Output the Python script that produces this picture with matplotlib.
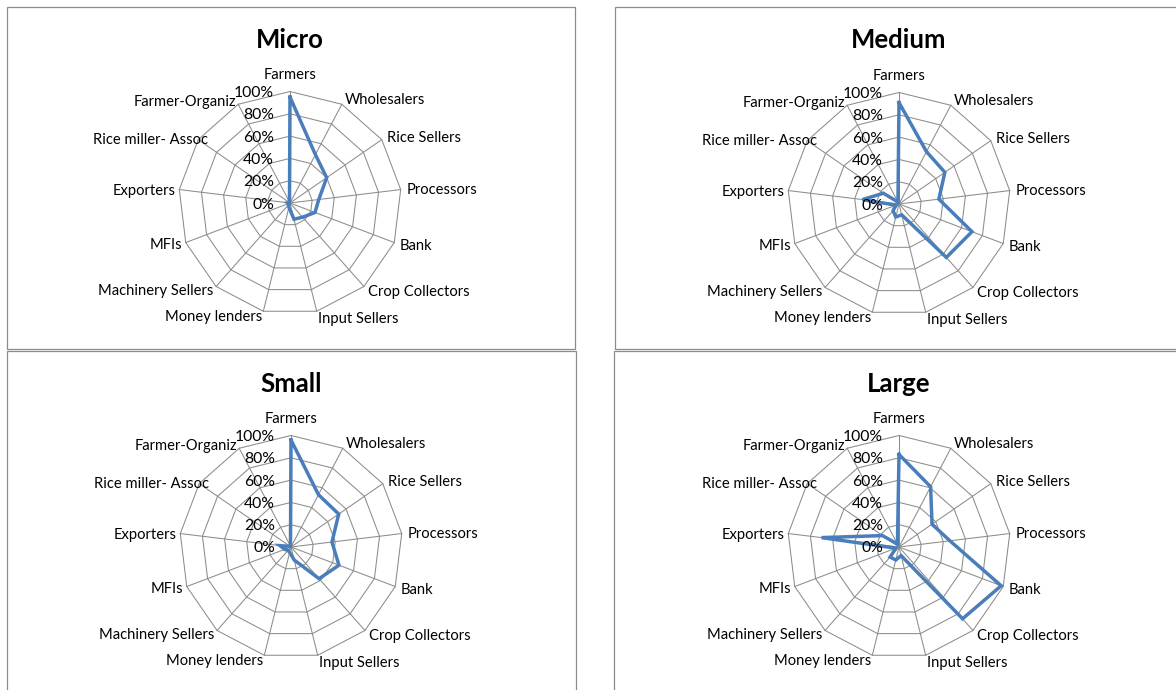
import numpy as np
import matplotlib
matplotlib.use("Agg")
import matplotlib.pyplot as plt
from matplotlib.patches import Rectangle

# ---- data ----
categories = ["Farmers", "Wholesalers", "Rice Sellers", "Processors", "Bank",
              "Crop Collectors", "Input Sellers", "Money lenders", "Machinery Sellers",
              "MFIs", "Exporters", "Rice miller- Assoc", "Farmer-Organiz"]
micro = [95, 49, 40, 26, 24, 17, 15, 4, 2, 1, 2, 1, 1]
medium = [91, 53, 50, 36, 70, 64, 10, 12, 8, 3, 33, 17, 2]
small = [96, 53, 52, 37, 46, 38, 12, 5, 4, 6, 10, 1, 1]
large = [83, 61, 36, 46, 98, 86, 8, 12, 12, 3, 70, 18, 3]
titles = ["Micro", "Medium", "Small", "Large"]
series = [micro, medium, small, large]
levels = [0, 20, 40, 60, 80, 100]
level_labels = ["0%", "20%", "40%", "60%", "80%", "100%"]

# ---- layout (pixels) ----
W, H = 1176, 690
DPI = 100
R = 111.5
centers = [(290, 203), (899, 204), (291, 547), (899, 547)]
panels = [(7, 7, 575, 349), (615, 7, 1185, 349), (7, 351, 576, 700), (614, 351, 1185, 700)]
title_y = [39.5, 39.5, 383.5, 383.5]
# extra pixel nudges for individual category labels (Excel placement quirks)
label_nudge = {0: (0, 18), 11: (13, -1)}
TEXT_DY = -1.5

FONT = "Lato"
grid_color = "#8c8c8c"
line_color = "#4a7ebb"

fig = plt.figure(figsize=(W / DPI, H / DPI), dpi=DPI)
fig.patch.set_facecolor("white")

for (x0, y0, x1, y1) in panels:
    fig.add_artist(Rectangle((x0 / W, 1 - y1 / H), (x1 - x0) / W, (y1 - y0) / H,
                             transform=fig.transFigure, fill=False,
                             ec="#8c8c8c", lw=0.9, zorder=0))

n = len(categories)
theta = np.arange(n) * 2 * np.pi / n
theta_c = np.append(theta, theta[0])

for k in range(4):
    cx, cy = centers[k]
    ax = fig.add_axes([(cx - R) / W, 1 - (cy + R) / H, 2 * R / W, 2 * R / H],
                      projection="polar")
    ax.set_theta_zero_location("N")
    ax.set_theta_direction(-1)
    ax.set_ylim(0, 100)
    ax.grid(False)
    ax.set_xticks([])
    ax.set_yticks([])
    ax.spines["polar"].set_visible(False)
    ax.patch.set_alpha(0)

    for lv in levels[1:]:
        ax.plot(theta_c, [lv] * (n + 1), color=grid_color, lw=0.75, zorder=1,
                clip_on=False)
    for t in theta:
        ax.plot([t, t], [0, 100], color=grid_color, lw=0.75, zorder=1, clip_on=False)

    vals = series[k]
    ax.plot(theta_c, list(vals) + [vals[0]], color=line_color, lw=2.5, zorder=3,
            clip_on=False, solid_joinstyle="miter")

    for lv, lab in zip(levels, level_labels):
        ax.annotate(lab, xy=(0, lv), xytext=(-16, TEXT_DY), textcoords="offset pixels",
                    ha="right", va="center", fontsize=11.3, family=FONT, color="black",
                    annotation_clip=False)

    for i, (t, cat) in enumerate(zip(theta, categories)):
        s, c = np.sin(t), np.cos(t)
        if i == 0:
            ha = "center"
            off = label_nudge[0]
        else:
            ha = "left" if s > 0 else "right"
            d = 6 if s > 0 else 4
            off = (d * s, d * c)
            if i in label_nudge:
                off = (off[0] + label_nudge[i][0], off[1] + label_nudge[i][1])
        off = (off[0], off[1] + TEXT_DY)
        ax.annotate(cat, xy=(t, 100), xytext=off, textcoords="offset pixels",
                    ha=ha, va="center", fontsize=10.6, family=FONT,
                    annotation_clip=False)

    fig.text(cx / W, 1 - title_y[k] / H, titles[k], ha="center", va="center",
             fontsize=18.5, fontweight="bold", family=FONT)

fig.savefig("out.png", dpi=DPI, facecolor="white")
